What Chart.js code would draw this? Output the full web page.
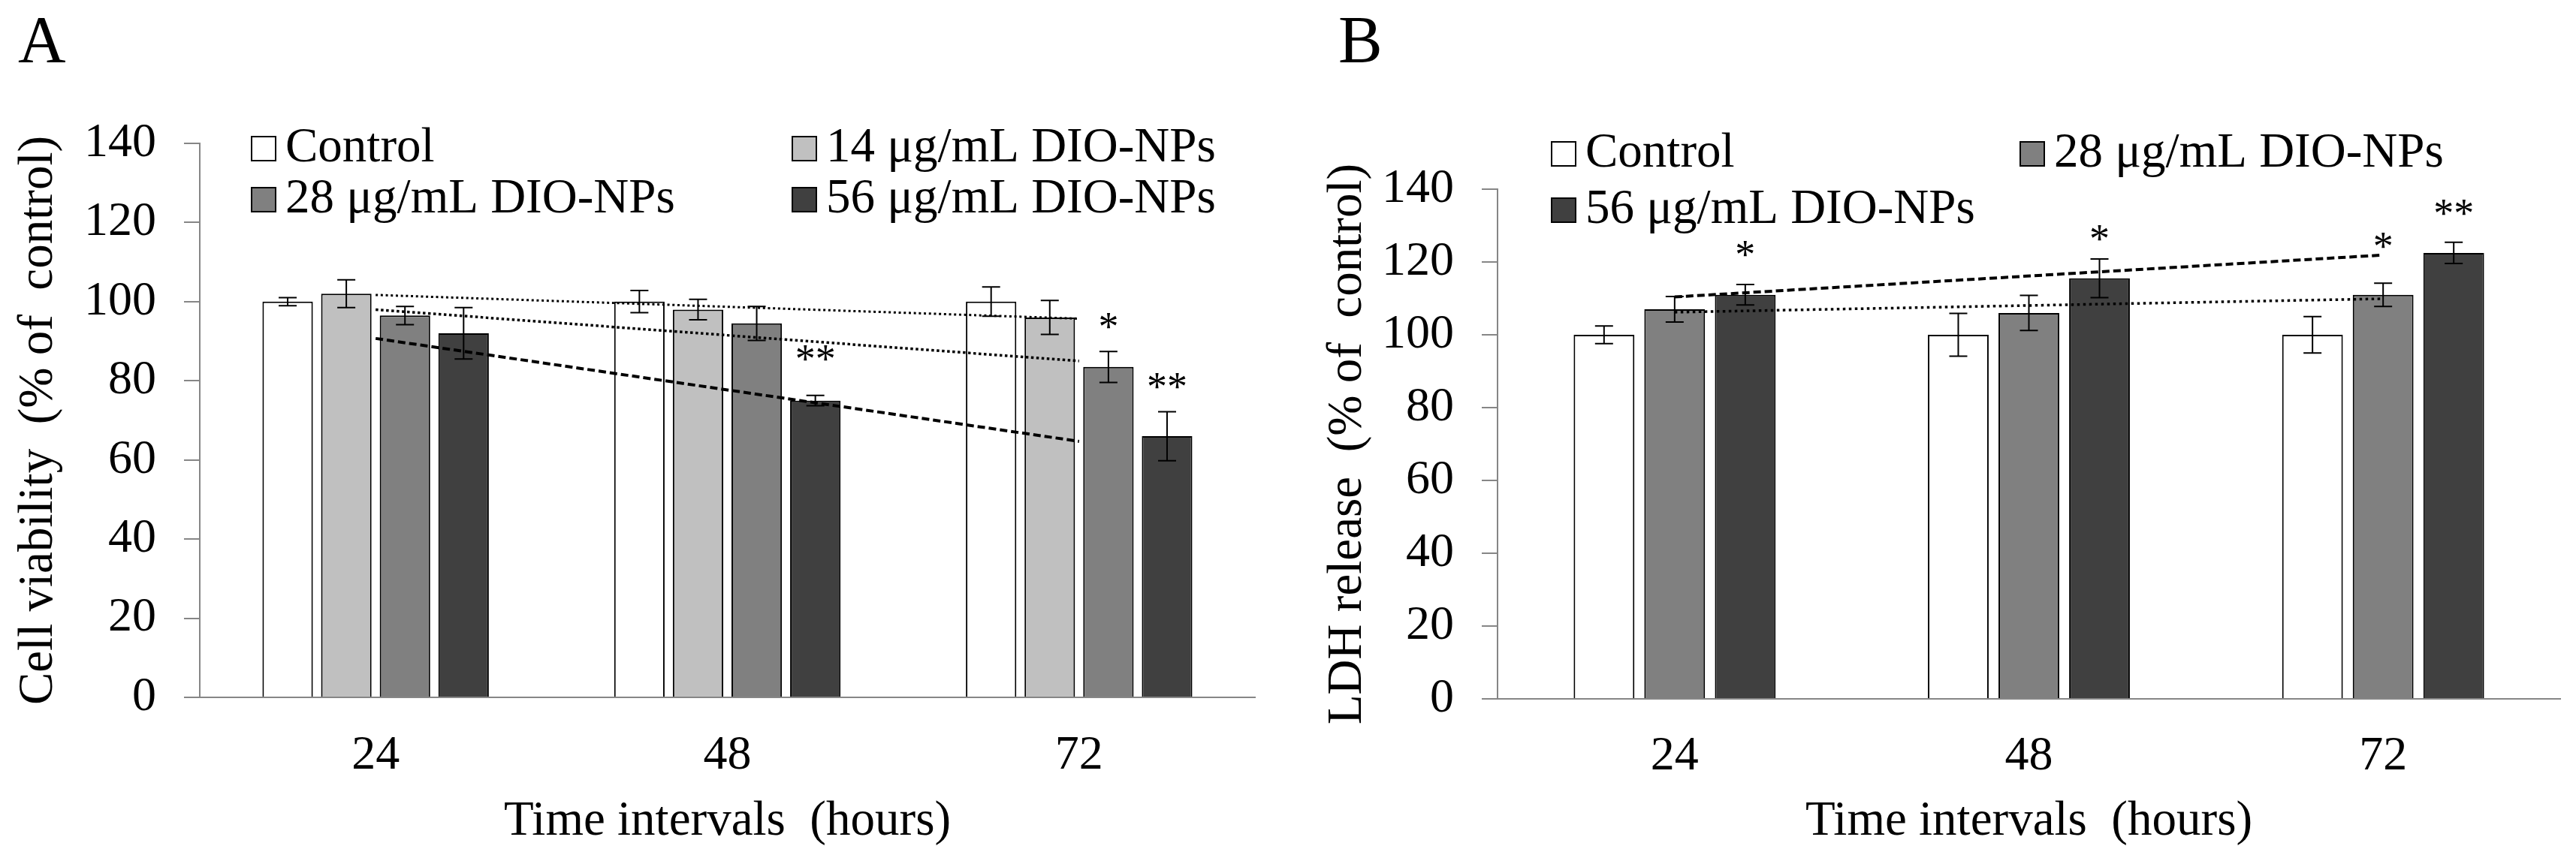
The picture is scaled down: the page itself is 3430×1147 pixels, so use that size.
<!DOCTYPE html>
<html>
<head>
<meta charset="utf-8">
<script src="https://cdn.jsdelivr.net/npm/chart.js@4.4.1/dist/chart.umd.min.js"></script>
<style>
  html, body { margin: 0; padding: 0; background: #fff; }
  .panel { position: absolute; top: 0; width: 1715px; height: 1147px; }
</style>
</head>
<body>
<div class="panel" style="left:0"><canvas id="chartA"></canvas></div>
<div class="panel" style="left:1715px"><canvas id="chartB"></canvas></div>
<script>
// x categories (hours)
const hours = ['24', '48', '72'];

// Panel A - cell viability (% of control)
const viabLabels = ['Control', '14 μg/mL DIO-NPs', '28 μg/mL DIO-NPs', '56 μg/mL DIO-NPs'];
const viabControl = [100, 100, 100];
const viab14 = [102, 98, 96];
const viab28 = [96.5, 94.5, 83.5];
const viab56 = [92, 75, 66];
const viabErrControl = [1.0, 2.8, 3.7];
const viabErr14 = [3.5, 2.6, 4.3];
const viabErr28 = [2.3, 4.3, 3.9];
const viabErr56 = [6.5, 1.3, 6.2];
// linear trend lines, end points
const viabTrend14 = [101.7, null, 95.7];
const viabTrend28 = [98.0, null, 85.0];
const viabTrend56 = [90.7, null, 64.7];
const viabStars = [
  { series: 3, hour: 1, mark: '**', at: 87 },
  { series: 2, hour: 2, mark: '*', at: 95 },
  { series: 3, hour: 2, mark: '**', at: 80 }
];

// Panel B - LDH release (% of control)
const ldhLabels = ['Control', '28 μg/mL DIO-NPs', '56 μg/mL DIO-NPs'];
const ldhControl = [100, 100, 100];
const ldh28 = [107, 106, 111];
const ldh56 = [111, 115.5, 122.5];
const ldhErrControl = [2.4, 5.9, 5.0];
const ldhErr28 = [3.5, 4.8, 3.2];
const ldhErr56 = [2.8, 5.3, 2.9];
const ldhTrend28 = [106.2, null, 109.9];
const ldhTrend56 = [110.4, null, 121.9];
const ldhStars = [
  { series: 2, hour: 0, mark: '*', at: 123.6 },
  { series: 2, hour: 1, mark: '*', at: 127.8 },
  { series: 1, hour: 2, mark: '*', at: 125.8 },
  { series: 2, hour: 2, mark: '**', at: 135 }
];

const FONT = '"Liberation Serif", "Times New Roman", serif';
Chart.defaults.font.family = FONT;
Chart.defaults.color = '#000';

const errorBars = {
  id: 'errorBars',
  afterDatasetsDraw(chart) {
    const ctx = chart.ctx, y = chart.scales.y;
    ctx.save();
    ctx.strokeStyle = '#000';
    ctx.lineWidth = 2;
    chart.data.datasets.forEach((ds, i) => {
      if (!ds.errors) return;
      chart.getDatasetMeta(i).data.forEach((bar, j) => {
        const top = y.getPixelForValue(ds.data[j] + ds.errors[j]);
        const bot = y.getPixelForValue(ds.data[j] - ds.errors[j]);
        ctx.beginPath();
        ctx.moveTo(bar.x, top); ctx.lineTo(bar.x, bot);
        ctx.moveTo(bar.x - 12, top); ctx.lineTo(bar.x + 12, top);
        ctx.moveTo(bar.x - 12, bot); ctx.lineTo(bar.x + 12, bot);
        ctx.stroke();
      });
    });
    ctx.restore();
  }
};

const starMarks = {
  id: 'starMarks',
  afterDatasetsDraw(chart, args, opts) {
    const ctx = chart.ctx, y = chart.scales.y;
    ctx.save();
    ctx.font = '54px ' + FONT;
    ctx.fillStyle = '#000';
    ctx.textAlign = 'center';
    ctx.textBaseline = 'alphabetic';
    (opts.marks || []).forEach(s => {
      const bar = chart.getDatasetMeta(s.series).data[s.hour];
      ctx.fillText(s.mark, bar.x, y.getPixelForValue(s.at) + 0.468 * 54);
    });
    ctx.restore();
  }
};

// two-column legend + panel letter
const boxLegend = {
  id: 'boxLegend',
  afterDraw(chart, args, opts) {
    const ctx = chart.ctx;
    ctx.save();
    ctx.font = '65px ' + FONT;
    ctx.textBaseline = 'middle';
    ctx.textAlign = 'left';
    let k = 0;
    chart.data.datasets.forEach(ds => {
      if (ds.type === 'line') return;
      const cx = opts.cols[k % 2], cy = opts.rows[Math.floor(k / 2)];
      const b = opts.box;
      ctx.fillStyle = ds.backgroundColor;
      ctx.fillRect(cx, cy - b / 2, b, b);
      ctx.strokeStyle = '#000';
      ctx.lineWidth = 2;
      ctx.strokeRect(cx + 1, cy - b / 2 + 1, b - 2, b - 2);
      ctx.fillStyle = '#000';
      ctx.fillText(ds.label, cx + b + 12, cy);
      k++;
    });
    ctx.font = '88px ' + FONT;
    ctx.textBaseline = 'alphabetic';
    ctx.fillText(opts.letter, opts.letterX, 82);
    ctx.restore();
  }
};

function barSet(label, data, errors, color) {
  return {
    label: label, data: data, errors: errors,
    backgroundColor: color, borderColor: '#000', borderWidth: 2, order: 1
  };
}
function trendSet(data, dash, width) {
  return {
    type: 'line', label: 'trend', data: data, spanGaps: true,
    borderColor: '#000', borderWidth: width, borderDash: dash,
    pointRadius: 0, fill: false, order: 0
  };
}

function makePanel(id, cfg) {
  return new Chart(document.getElementById(id), {
    type: 'bar',
    data: { labels: hours, datasets: cfg.datasets },
    options: {
      responsive: true,
      maintainAspectRatio: false,
      animation: false,
      devicePixelRatio: 1,
      datasets: { bar: { categoryPercentage: cfg.catPct, barPercentage: 0.86 } },
      layout: { padding: { left: 0, right: cfg.padRight, top: cfg.top, bottom: 0 } },
      plugins: {
        legend: { display: false },
        tooltip: { enabled: false },
        starMarks: { marks: cfg.stars },
        boxLegend: cfg.legend
      },
      scales: {
        x: {
          grid: { display: false, drawTicks: false },
          border: { display: true, color: '#868686', width: 2 },
          ticks: { font: { size: 64 }, padding: cfg.xTickPad, color: '#000' },
          title: {
            display: true, text: 'Time intervals  (hours)',
            font: { size: 65, lineHeight: 1.2 }, padding: { top: 0, bottom: 13 }, color: '#000'
          },
          afterFit(s) { s.height = cfg.xHeight; }
        },
        y: {
          min: 0, max: 140,
          ticks: { stepSize: 20, font: { size: 64 }, padding: 37, color: '#000' },
          grid: { display: true, drawOnChartArea: false, drawTicks: true, tickLength: 21, color: '#868686', lineWidth: 2 },
          border: { display: true, color: '#868686', width: 2 },
          title: {
            display: true, text: cfg.yTitle,
            font: { size: 65, lineHeight: 1.2 }, padding: { top: cfg.yTitlePad, bottom: 0 }, color: '#000'
          },
          afterFit(s) { s.width = cfg.yWidth; }
        }
      }
    },
    plugins: [errorBars, starMarks, boxLegend]
  });
}

makePanel('chartA', {
  datasets: [
    barSet(viabLabels[0], viabControl, viabErrControl, '#ffffff'),
    barSet(viabLabels[1], viab14, viabErr14, '#c0c0c0'),
    barSet(viabLabels[2], viab28, viabErr28, '#808080'),
    barSet(viabLabels[3], viab56, viabErr56, '#404040'),
    trendSet(viabTrend14, [3, 3.7], 3),
    trendSet(viabTrend28, [3.5, 3.5], 3.5),
    trendSet(viabTrend56, [10, 5], 4)
  ],
  catPct: 0.667, padRight: 44, top: 191, xHeight: 218, yWidth: 266,
  xTickPad: 40, yTitlePad: 13,
  yTitle: 'Cell viability  (% of  control)',
  stars: viabStars,
  legend: { cols: [334, 1054], rows: [198, 266], box: 34, letter: 'A', letterX: 24 }
});

makePanel('chartB', {
  datasets: [
    barSet(ldhLabels[0], ldhControl, ldhErrControl, '#ffffff'),
    barSet(ldhLabels[1], ldh28, ldhErr28, '#808080'),
    barSet(ldhLabels[2], ldh56, ldhErr56, '#404040'),
    trendSet(ldhTrend28, [3.5, 4.5], 3.5),
    trendSet(ldhTrend56, [10, 5], 4)
  ],
  catPct: 0.598, padRight: 21, top: 252, xHeight: 216, yWidth: 279,
  xTickPad: 39, yTitlePad: 41,
  yTitle: 'LDH release  (% of  control)',
  stars: ldhStars,
  legend: { cols: [350, 974], rows: [205, 280], box: 34, letter: 'B', letterX: 67 }
});
</script>
</body>
</html>
